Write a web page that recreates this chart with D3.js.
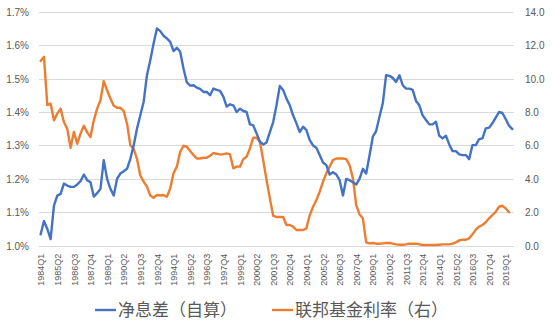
<!DOCTYPE html>
<html><head><meta charset="utf-8">
<script src="https://cdn.jsdelivr.net/npm/d3@7"></script>
<style>
html,body{margin:0;padding:0;background:#fff;}
svg{display:block;}
</style></head>
<body><svg id="c" width="554" height="332"></svg>
<script>
// ---- data ----
const startYear = 1984, nQuarters = 143; // 1984Q1 .. 2019Q3
const quarters = [];
for (let i = 0; i < nQuarters; i++) {
  quarters.push((startYear + Math.floor(i / 4)) + "Q" + (i % 4 + 1));
}
const tickEvery = 5;
const tickLabels = quarters.filter((q, i) => i % tickEvery === 0);

const nimValues = [
  1.034, 1.074, 1.05, 1.02, 1.12, 1.15, 1.155, 1.186, 1.18, 1.176,
  1.176, 1.183, 1.193, 1.213, 1.196, 1.19, 1.147, 1.157, 1.17, 1.256,
  1.20, 1.17, 1.15, 1.20, 1.216, 1.223, 1.23, 1.26, 1.30, 1.35,
  1.39, 1.43, 1.51, 1.555, 1.605, 1.65, 1.642, 1.628, 1.62, 1.61,
  1.582, 1.592, 1.58, 1.53, 1.489, 1.479, 1.48, 1.473, 1.469, 1.46,
  1.46, 1.45, 1.47, 1.466, 1.463, 1.446, 1.416, 1.423, 1.42, 1.40,
  1.41, 1.403, 1.40, 1.363, 1.36, 1.336, 1.311, 1.303, 1.309, 1.34,
  1.37, 1.42, 1.478, 1.466, 1.44, 1.42, 1.39, 1.366, 1.34, 1.356,
  1.346, 1.316, 1.30, 1.293, 1.271, 1.249, 1.241, 1.213, 1.22, 1.213,
  1.196, 1.15, 1.20, 1.196, 1.19, 1.183, 1.20, 1.23, 1.216, 1.27,
  1.326, 1.343, 1.386, 1.426, 1.51, 1.508, 1.502, 1.49, 1.51, 1.48,
  1.47, 1.47, 1.466, 1.433, 1.42, 1.39, 1.376, 1.363, 1.363, 1.371,
  1.329, 1.321, 1.329, 1.303, 1.283, 1.283, 1.273, 1.271, 1.271, 1.259,
  1.301, 1.301, 1.319, 1.321, 1.351, 1.353, 1.366, 1.383, 1.40, 1.397,
  1.379, 1.359, 1.349
];
const fedValues = [
  11.05, 11.3, 8.41, 8.5, 7.5, 7.9, 8.2, 7.4, 7.0, 5.86,
  6.8, 6.1, 6.7, 7.18, 6.78, 6.5, 7.5, 8.2, 8.7, 9.85,
  9.3, 8.8, 8.37, 8.25, 8.25, 8.05, 7.3, 6.0, 5.8, 5.2,
  4.2, 3.83, 3.53, 3.0, 2.87, 3.03, 3.0, 3.03, 2.93, 3.43,
  4.33, 4.73, 5.62, 5.98, 5.92, 5.66, 5.42, 5.22, 5.22, 5.26,
  5.26, 5.38, 5.54, 5.5, 5.46, 5.48, 5.52, 5.46, 4.63, 4.73,
  4.73, 5.18, 5.32, 5.82, 6.46, 6.46, 6.22, 5.12, 3.93, 2.83,
  1.79, 1.72, 1.72, 1.72, 1.24, 1.24, 1.14, 0.94, 0.94, 0.94,
  1.04, 1.83, 2.33, 2.73, 3.23, 3.83, 4.33, 4.73, 5.12, 5.22,
  5.22, 5.22, 5.18, 4.82, 4.03, 2.43, 1.87, 1.64, 0.2, 0.14,
  0.16, 0.12, 0.12, 0.14, 0.16, 0.16, 0.12, 0.08, 0.06, 0.06,
  0.08, 0.12, 0.12, 0.12, 0.08, 0.04, 0.04, 0.04, 0.04, 0.04,
  0.06, 0.08, 0.08, 0.08, 0.12, 0.2, 0.32, 0.36, 0.36, 0.44,
  0.68, 0.96, 1.14, 1.24, 1.4, 1.64, 1.83, 2.03, 2.33, 2.39,
  2.23, 2.0
];
const leftTicks = [1.0, 1.1, 1.2, 1.3, 1.4, 1.5, 1.6, 1.7];
const rightTicks = [0, 2, 4, 6, 8, 10, 12, 14];
const seriesNames = ["净息差（自算）", "联邦基金利率（右）"];
const colors = ["#4472C4", "#ED7D31"];

// ---- chart ----
const svg = d3.select("#c");
const plot = {left: 39, right: 514, top: 11.7, bottom: 245.7};
const font = "'Liberation Sans', Arial, sans-serif";

const x = d3.scalePoint().domain(quarters).range([plot.left, plot.right]).padding(0.5);
const yL = d3.scaleLinear().domain([1.0, 1.7]).range([plot.bottom, plot.top]);
const yR = d3.scaleLinear().domain([0, 14]).range([plot.bottom, plot.top]);

// gridlines
svg.append("g").selectAll("line").data(leftTicks).join("line")
  .attr("x1", plot.left).attr("x2", plot.right)
  .attr("y1", d => Math.round(yL(d)) + 0.5).attr("y2", d => Math.round(yL(d)) + 0.5)
  .attr("stroke", "#D9D9D9").attr("stroke-width", 1);

// left axis
const gL = svg.append("g").attr("transform", `translate(${plot.left - 10},0)`)
  .call(d3.axisLeft(yL).tickValues(leftTicks).tickSize(0).tickPadding(0)
    .tickFormat(d => d.toFixed(1) + "%"));
gL.select(".domain").remove();
gL.selectAll("text").attr("font-family", font).attr("font-size", 10).attr("fill", "#595959").attr("dy", "0.35em");

// right axis
const gR = svg.append("g").attr("transform", `translate(${plot.right + 11},0)`)
  .call(d3.axisRight(yR).tickValues(rightTicks).tickSize(0).tickPadding(0).tickFormat(d => d.toFixed(1)));
gR.select(".domain").remove();
gR.selectAll("text").attr("font-family", font).attr("font-size", 10).attr("fill", "#595959").attr("dy", "0.35em");

// bottom axis
const gB = svg.append("g").attr("transform", `translate(0,${plot.bottom})`)
  .call(d3.axisBottom(x).tickValues(tickLabels).tickSize(0).tickPadding(0));
gB.select(".domain").remove();
gB.selectAll("text")
  .attr("font-family", font).attr("font-size", 9).attr("fill", "#595959")
  .attr("text-anchor", "end").attr("transform", "translate(0,8) rotate(-90)")
  .attr("x", 0).attr("y", 0).attr("dy", "0.35em");

// lines
const lineL = d3.line().x((d, i) => x(quarters[i])).y(d => yL(d));
const lineR = d3.line().x((d, i) => x(quarters[i])).y(d => yR(d));
svg.append("path").datum(fedValues).attr("d", lineR)
  .attr("fill", "none").attr("stroke", colors[1]).attr("stroke-width", 2.4)
  .attr("stroke-linejoin", "round").attr("stroke-linecap", "round");
svg.append("path").datum(nimValues).attr("d", lineL)
  .attr("fill", "none").attr("stroke", colors[0]).attr("stroke-width", 2.4)
  .attr("stroke-linejoin", "round").attr("stroke-linecap", "round");

// legend
const legendY = 310;
const legendItems = [{x: 95, name: seriesNames[0], c: colors[0]}, {x: 272, name: seriesNames[1], c: colors[1]}];
const lg = svg.append("g");
legendItems.forEach(it => {
  lg.append("line").attr("x1", it.x).attr("x2", it.x + 21).attr("y1", legendY).attr("y2", legendY)
    .attr("stroke", it.c).attr("stroke-width", 2.4);
  lg.append("text").attr("x", it.x + 23).attr("y", legendY).attr("dy", "0.35em")
    .attr("font-family", "'Noto Sans CJK SC', sans-serif").attr("font-size", 17)
    .attr("fill", "#595959").text(it.name);
});
</script>
</body></html>
